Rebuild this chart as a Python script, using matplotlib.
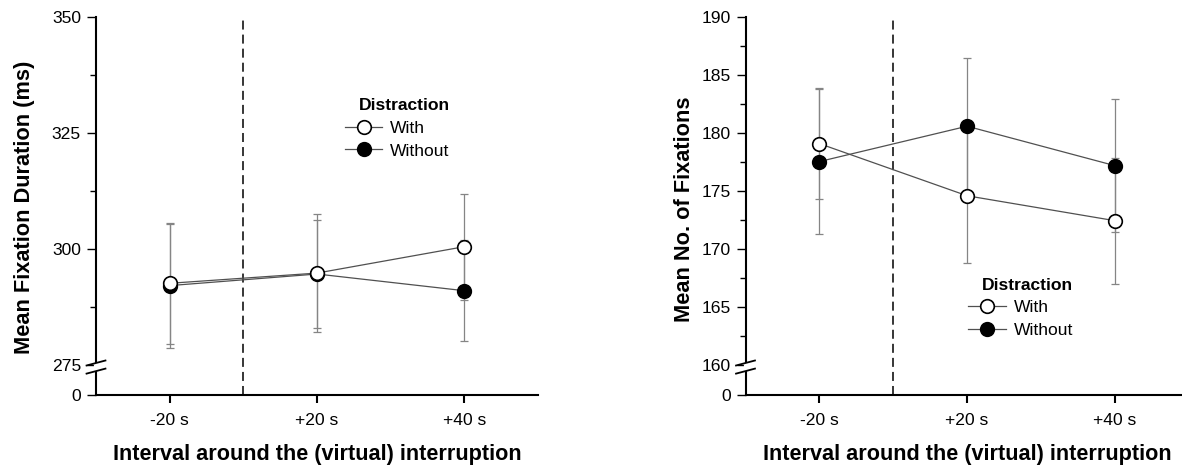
import matplotlib
matplotlib.use("Agg")
import matplotlib.pyplot as plt
from matplotlib.lines import Line2D
from matplotlib.transforms import Affine2D, ScaledTranslation
from matplotlib.ticker import FixedLocator

plt.rcParams['font.family'] = ['Liberation Sans', 'DejaVu Sans']

# ---------------- data ----------------
categories = ['-20 s', '+20 s', '+40 s']
series_names = ['With', 'Without']

dur_with = [292.6, 294.8, 300.5]
dur_with_err = [13.0, 12.8, 11.45]
dur_without = [292.1, 294.6, 291.0]
dur_without_err = [13.4, 11.65, 10.9]

fix_with = [179.1, 174.6, 172.45]
fix_with_err = [4.8, 5.8, 5.45]
fix_without = [177.55, 180.6, 177.2]
fix_without_err = [6.25, 5.9, 5.75]

dur_ticks = [275, 300, 325, 350]
fix_ticks = [160, 165, 170, 175, 180, 185, 190]

dur_ylabel = 'Mean Fixation Duration (ms)'
fix_ylabel = 'Mean No. of Fixations'
xlabel = 'Interval around the (virtual) interruption'
legend_title = 'Distraction'

# ---------------- figure ----------------
W, H = 1182, 469
fig = plt.figure(figsize=(W / 100, H / 100), dpi=100)

def px_axes(x0, x1, ytop, ybot):
    return [x0 / W, (H - ybot) / H, (x1 - x0) / W, (ybot - ytop) / H]

ax1 = fig.add_axes(px_axes(96, 538, 17.3, 394.5))
ax2 = fig.add_axes(px_axes(745.5, 1182, 17.3, 394.5))

FS = 12.6
LINE_C = '#505050'
ERR_C = '#858585'
MS = 9.8

def draw_panel(ax, with_v, with_e, without_v, without_e, ticks, floor, xmax,
               ylabel, ylab_x, ylab_y, leg_anchor, xlab_x):
    xs = list(range(1, len(categories) + 1))
    # error bars
    for vals, errs in ((without_v, without_e), (with_v, with_e)):
        ax.errorbar(xs, vals, yerr=errs, fmt='none', ecolor=ERR_C,
                    elinewidth=0.9, capsize=2.6, capthick=0.9, zorder=2)
    # lines
    ax.plot(xs, without_v, color=LINE_C, lw=0.9, zorder=3)
    ax.plot(xs, with_v, color=LINE_C, lw=0.9, zorder=3)
    # markers
    ax.plot(xs, without_v, ls='none', marker='o', ms=MS, mfc='black',
            mec='black', mew=1.2, zorder=4)
    ax.plot(xs, with_v, ls='none', marker='o', ms=MS, mfc='white',
            mec='black', mew=1.2, zorder=5)

    # dashed interruption line
    ax.axvline(1.5, color='black', lw=1.1, ls=(0, (5.9, 3.3)), zorder=1)

    ax.set_xlim(0.5, xmax)
    ax.set_ylim(floor, ticks[-1])
    ax.set_xticks(xs)
    ax.set_xticklabels(categories, fontsize=FS)
    ax.set_yticks([floor] + ticks)
    ax.set_yticklabels(['0'] + [str(t) for t in ticks], fontsize=FS)
    minors = [(a + b) / 2 for a, b in zip(ticks[:-1], ticks[1:])]
    ax.yaxis.set_minor_locator(FixedLocator(minors))

    for s in ('top', 'right'):
        ax.spines[s].set_visible(False)
    for s in ('left', 'bottom'):
        ax.spines[s].set_linewidth(1.5)
    ax.tick_params(axis='y', which='major', length=6.3, width=1.0, pad=4.5,
                   direction='out')
    ax.tick_params(axis='y', which='minor', length=4.3, width=1.0,
                   direction='out')
    ax.tick_params(axis='x', which='major', length=6.0, width=1.5, pad=7,
                   direction='out')

    ax.set_ylabel(ylabel, fontsize=15.7, fontweight='bold')
    ax.yaxis.set_label_coords(ylab_x, ylab_y)
    ax.set_xlabel(xlabel, fontsize=15.6, fontweight='bold')
    ax.xaxis.set_label_coords(xlab_x, -0.13)

    # axis break marks on the y spine
    pt = Affine2D().scale(fig.dpi / 72.0)
    f_up, f_lo = 0.0835, 0.062
    # white gap in spine between the two marks
    ax.plot([0, 0], [f_lo, f_up], transform=ax.transAxes, color='white',
            lw=3, solid_capstyle='butt', clip_on=False, zorder=6)
    for f in (f_up, f_lo):
        tr = pt + ScaledTranslation(0, f, ax.transAxes)
        ax.plot([-6.8, 6.8], [-1.8, 1.8], transform=tr, color='black',
                lw=1.3, clip_on=False, zorder=7)

    # legend
    handles = [
        Line2D([], [], color=LINE_C, lw=0.9, marker='o', ms=MS, mfc='white',
               mec='black', mew=1.2),
        Line2D([], [], color=LINE_C, lw=0.9, marker='o', ms=MS, mfc='black',
               mec='black', mew=1.2),
    ]
    leg = ax.legend(handles, series_names, title=legend_title,
                    loc='upper left', bbox_to_anchor=leg_anchor,
                    frameon=False, fontsize=FS, title_fontsize=FS,
                    borderpad=0, borderaxespad=0, handlelength=2.15,
                    handletextpad=0.45, labelspacing=0.42,
                    alignment='right')
    leg.get_title().set_fontweight('bold')

draw_panel(ax1, dur_with, dur_with_err, dur_without, dur_without_err,
           dur_ticks, 268.6, 3.5, dur_ylabel, -0.138, 0.497,
           (0.563, 0.785), 0.5)
draw_panel(ax2, fix_with, fix_with_err, fix_without, fix_without_err,
           fix_ticks, 157.45, 3.455, fix_ylabel, -0.1157, 0.49,
           (0.5097, 0.31), 0.5076)

fig.savefig('out.png', dpi=100)
